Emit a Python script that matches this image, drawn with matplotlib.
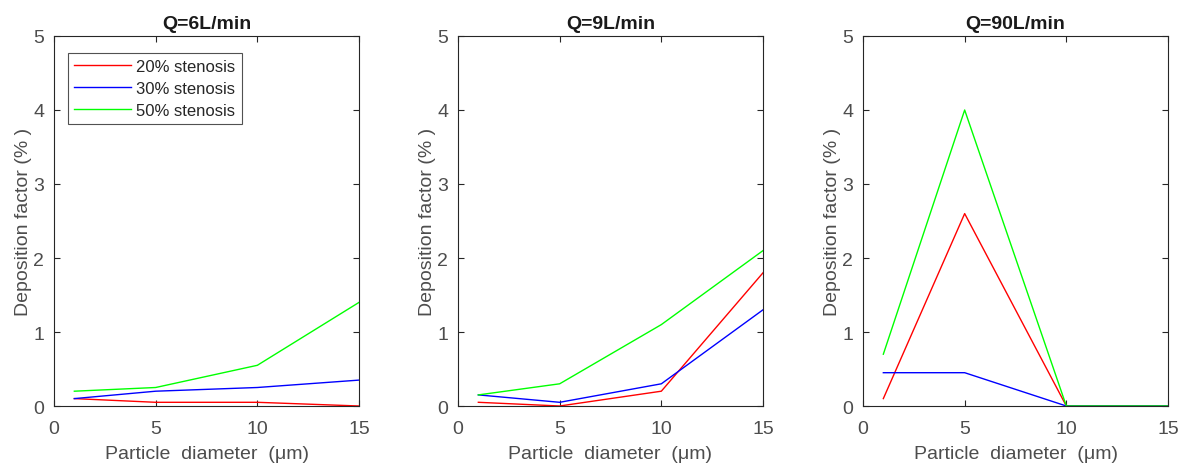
import matplotlib
matplotlib.use("Agg")
import matplotlib.pyplot as plt

plt.rcParams['font.family'] = ['Liberation Sans', 'DejaVu Sans']

diameters = [1, 5, 10, 15]
titles = ["Q=6L/min", "Q=9L/min", "Q=90L/min"]
series_labels = ["20% stenosis", "30% stenosis", "50% stenosis"]
series_colors = ["#ff0000", "#0000ff", "#00ff00"]

q6_20 = [0.10, 0.05, 0.05, 0.00]
q6_30 = [0.10, 0.20, 0.25, 0.35]
q6_50 = [0.20, 0.25, 0.55, 1.40]

q9_20 = [0.05, 0.00, 0.20, 1.80]
q9_30 = [0.15, 0.05, 0.30, 1.30]
q9_50 = [0.15, 0.30, 1.10, 2.10]

q90_20 = [0.10, 2.60, 0.00, 0.00]
q90_30 = [0.45, 0.45, 0.00, 0.00]
q90_50 = [0.70, 4.00, 0.00, 0.00]

panels = [[q6_20, q6_30, q6_50], [q9_20, q9_30, q9_50], [q90_20, q90_30, q90_50]]

W, H = 1184, 464
fig = plt.figure(figsize=(W / 100, H / 100), dpi=100)

lefts = [54, 458, 863]
ax_w = 305
top, bottom = 37, 407

txt_col = "#4d4d4d"
for i, (left, title, data) in enumerate(zip(lefts, titles, panels)):
    ax = fig.add_axes([left / W, 1 - bottom / H, ax_w / W, (bottom - top) / H])
    for vals, lab, col in zip(data, series_labels, series_colors):
        ax.plot(diameters, vals, color=col, lw=1.0, label=lab)
    ax.set_xlim(0, 15)
    ax.set_ylim(0, 5)
    ax.set_xticks([0, 5, 10, 15])
    ax.set_yticks([0, 1, 2, 3, 4, 5])
    ax.tick_params(direction="in", top=True, right=True, labelsize=14,
                   colors="#262626", labelcolor=txt_col, length=4, width=0.8)
    ax.tick_params(axis="x", pad=10)
    ax.tick_params(axis="y", pad=7)
    for sp in ax.spines.values():
        sp.set_color("#262626")
        sp.set_linewidth(0.8)
    ax.set_title(title, fontsize=14, fontweight="bold", color="#1a1a1a", pad=6)
    ax.set_xlabel("Particle  diameter  (\u03bcm)", fontsize=14, color=txt_col, labelpad=6)
    ax.set_ylabel("Deposition factor (% )", fontsize=14, color=txt_col, labelpad=1)
    if i == 0:
        leg = ax.legend(loc="upper left", bbox_to_anchor=(0.045, 0.955), fontsize=12,
                        frameon=True, fancybox=False, edgecolor="#262626",
                        handlelength=3.4, handletextpad=0.3, borderpad=0.4,
                        labelspacing=0.4, borderaxespad=0)
        leg.get_frame().set_linewidth(0.8)
        for t in leg.get_texts():
            t.set_color("#262626")

fig.savefig("out.png", dpi=100)
